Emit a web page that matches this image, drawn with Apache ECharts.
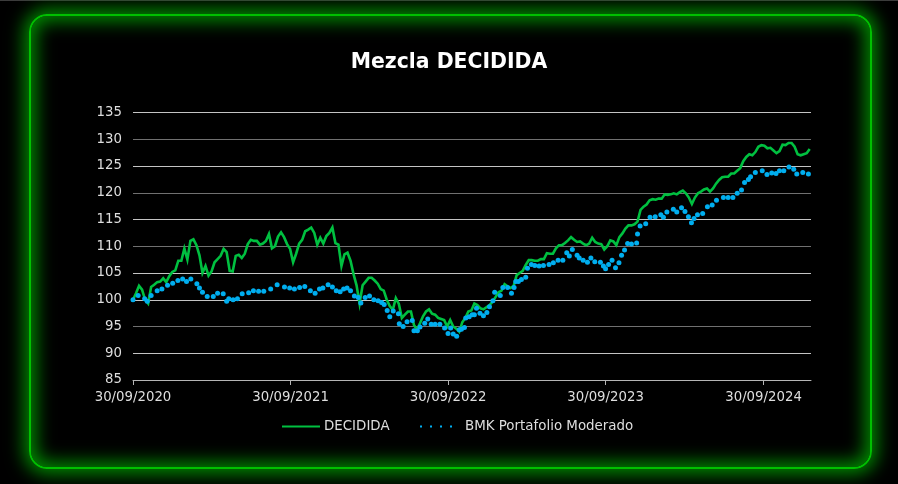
<!DOCTYPE html>
<html>
<head>
<meta charset="utf-8">
<style>
html, body { margin: 0; padding: 0; background: #000; }
#frame {
	position: absolute; left: 29px; top: 14px; width: 839px; height: 451px;
	border: 2px solid #00c000; border-radius: 18px;
	box-shadow: 0 0 18px 5px rgb(0,140,0), inset 0 0 18px 5px rgb(0,140,0);
}
#topline { position: absolute; left: 0; top: 0; width: 898px; height: 1px; background: #3c3c3c; }
#chart { position: absolute; left: 0; top: 0; width: 898px; height: 484px; }
</style>
<script src="https://cdn.jsdelivr.net/npm/echarts@6/dist/echarts.min.js"></script>
</head>
<body>
<div id="topline"></div>
<div id="frame"></div>
<div id="chart"></div>
<script>
// DECIDIDA: one value per week from 30/09/2020
let deciValues = [
	100,101.2,102.6,101.9,100,99.3,102.4,102.8,103.3,103.4,104,103.3,104.4,105.2,105.5,107.3,107.3,109.6,107.5,111,
	111.3,110.2,108.3,105,106.3,104.5,105.3,107,107.6,108.2,109.5,108.9,105.4,105.3,108.2,108.4,107.8,108.6,110.4,111.2,
	111,111,110.3,110.5,111,112.3,109.6,110,111.8,112.6,111.7,110.4,109.5,107,108.6,110.5,111.2,112.8,113.1,113.5,
	112.5,110.3,111.6,110.5,111.9,112.5,113.5,110.6,110.3,106.3,108.5,108.8,107.3,104.8,102.7,99.3,102.7,103.4,104.1,104.1,
	103.6,103,102,101.7,100,98.8,98.1,100.3,99.2,96.6,97.2,97.8,97.8,95.3,94.4,95.6,96.9,97.8,98.2,97.4,
	97.2,96.6,96.4,96.2,95,96.2,95,94.6,94,95.8,96.6,97.8,98,99.3,99,98.4,98.2,98.6,99,99.6,
	100.5,101.4,101.7,102.9,102.5,102.2,102.6,104.6,105,105.4,106.5,107.4,107.4,107.3,107.3,107.6,107.6,108.7,108.6,108.6,
	109.6,110.2,110.2,110.6,111.1,111.7,111.2,110.8,110.9,110.5,110.2,110.5,111.6,110.8,110.5,110.4,109.4,110,111.1,110.9,
	110.2,111.7,112.4,113.3,113.9,113.9,114.1,114.6,116.8,117.4,117.8,118.6,118.8,118.7,118.9,118.9,119.7,119.6,119.7,119.9,
	119.7,120.1,120.4,119.9,119.1,117.9,119.1,119.9,120.2,120.6,120.8,120.2,120.8,121.7,122.4,122.9,123,123,123.6,123.6,
	124.1,124.6,125.9,126.7,127.2,127,127.6,128.6,128.9,128.8,128.3,128.4,127.9,127.4,127.8,129,128.9,129.3,129.3,128.6,
	127.2,127,127.2,127.4,128.2
];
// BMK: irregular dots, x in days from 30/09/2020
let bmkDays = [
	0,12,27,33,42,56,67,80,92,104,115,124,134,148,154,161,172,186,196,209,217,222,232,242,253,268,279,291,303,319,
	334,351,363,374,386,398,411,422,432,440,452,462,471,480,488,496,504,513,522,528,538,548,558,568,576,582,589,595,603,615,
	617,626,635,647,651,659,665,676,683,691,700,711,722,730,736,742,750,756,761,768,771,779,786,791,796,804,812,820,826,834,
	838,851,857,868,877,883,887,893,900,910,914,923,931,941,951,964,974,985,996,1005,1011,1018,1029,1034,1043,1053,1061,1070,1083,1090,
	1095,1102,1110,1118,1126,1132,1139,1146,1155,1167,1169,1175,1188,1198,1210,1223,1229,1237,1252,1260,1271,1279,1287,1294,1300,1308,1320,1331,1342,1352,
	1368,1379,1390,1400,1410,1417,1426,1431,1442,1458,1469,1480,1490,1498,1508,1520,1531,1538,1552,1565
];
let bmkValues = [
	100,100.8,100.2,99.7,100.8,101.7,102,102.7,103.1,103.6,103.9,103.4,103.9,103,102.2,101.4,100.6,100.6,101.2,101.1,99.7,100.2,100,100.2,101.1,101.3,101.7,101.6,101.6,102,
	102.8,102.4,102.2,102,102.3,102.5,101.7,101.2,102,102.2,102.8,102.4,101.7,101.5,102,102.2,101.7,100.7,100.4,99.4,100.4,100.7,100,99.8,99.5,99.1,98,96.8,97.9,97.4,
	95.5,95,95.9,96.1,94.2,94.2,94.9,95.6,96.4,95.4,95.4,95.4,94.7,93.7,94.7,93.6,93.2,94.4,94.5,94.8,96.6,96.8,97.2,97.2,98.4,97.5,97,97.6,98.7,99.8,
	101.4,100.8,102.3,102.3,101.2,102.3,103.4,103.4,103.8,104.2,105.9,106.6,106.4,106.3,106.4,106.6,106.9,107.4,107.4,108.8,108.2,109.4,108.3,107.8,107.4,107,107.8,107.1,107,106.3,
	105.8,106.6,107.4,106,106.9,108.3,109.3,110.5,110.4,110.6,112.3,113.8,114.2,115.4,115.5,115.9,115.4,116.4,116.9,116.4,117.2,116.5,115.5,114.4,115.2,115.9,116.1,117.4,117.7,118.6,
	119.1,119.1,119.1,119.9,120.5,121.9,122.5,123,123.8,124.1,123.4,123.7,123.6,124.1,124.1,124.8,124.4,123.5,123.8,123.5
];
let tickDays = [0, 365, 730, 1095, 1461];
let tickLabels = ['30/09/2020', '30/09/2021', '30/09/2022', '30/09/2023', '30/09/2024'];
let gridColors = ['#aaaaaa', '#c4c4c4', '#707070', '#c4c4c4', '#c4c4c4', '#707070', '#c4c4c4', '#707070', '#c4c4c4', '#707070', '#c4c4c4'];

let fontName = '"DejaVu Sans", sans-serif';
let textColor = '#dedede';
let greenColor = '#00c040';
let blueColor = '#00aeef';

let myChart = echarts.init(document.getElementById('chart'));

let option = {
	backgroundColor: 'transparent',
	animation: false,
	title: {
		text: 'Mezcla DECIDIDA',
		left: 'center',
		top: 48,
		textStyle: { color: '#fff', fontFamily: fontName, fontWeight: 'bold', fontSize: 20.4 }
	},
	legend: [
		{
			left: 282,
			top: 420,
			padding: 0,
			itemWidth: 38,
			itemHeight: 2,
			selectedMode: false,
			textStyle: { color: textColor, fontFamily: fontName, fontSize: 13.4, padding: [0, 0, 0, -1] },
			data: [{ name: 'DECIDIDA', icon: 'path://M0 0H38V2H0Z', itemStyle: { color: greenColor } }]
		},
		{
			left: 420,
			top: 420,
			padding: 0,
			itemWidth: 32,
			itemHeight: 2,
			selectedMode: false,
			textStyle: { color: textColor, fontFamily: fontName, fontSize: 13.4, padding: [0, 0, 0, 8] },
			data: [{ name: 'BMK Portafolio Moderado', icon: 'path://M0 0H2V2H0ZM10 0H12V2H10ZM20 0H22V2H20ZM30 0H32V2H30Z', itemStyle: { color: blueColor } }]
		}
	],
	grid: { left: 133, right: 87, top: 112.5, bottom: 104 },
	xAxis: {
		type: 'value',
		min: 0,
		max: 1571,
		splitLine: { show: false },
		axisLine: { show: true, onZero: false, lineStyle: { color: '#b5b5b5', width: 1 } },
		axisTick: { show: true, length: 5, customValues: tickDays, lineStyle: { color: '#b5b5b5' } },
		axisLabel: {
			customValues: tickDays,
			color: textColor,
			fontFamily: fontName,
			fontSize: 13.3,
			margin: 11,
			hideOverlap: false,
			formatter: function (v) { return tickLabels[tickDays.indexOf(v)]; }
		}
	},
	yAxis: {
		type: 'value',
		min: 85,
		max: 135,
		interval: 5,
		axisLine: { show: false },
		axisTick: { show: false },
		axisLabel: { color: textColor, fontFamily: fontName, fontSize: 13.3, margin: 11 },
		splitLine: { lineStyle: { color: gridColors, width: 1 } }
	},
	series: [
		{
			name: 'DECIDIDA',
			type: 'line',
			showSymbol: false,
			symbol: 'none',
			z: 3,
			lineStyle: { color: greenColor, width: 2.6, join: 'miter' },
			itemStyle: { color: greenColor },
			data: deciValues.map((v, i) => [i * 7, v])
		},
		{
			name: 'BMK Portafolio Moderado',
			type: 'scatter',
			symbol: 'circle',
			symbolSize: 5,
			z: 4,
			itemStyle: { color: blueColor, opacity: 1 },
			data: bmkValues.map((v, i) => [bmkDays[i], v])
		}
	]
};

myChart.setOption(option);
</script>
</body>
</html>
